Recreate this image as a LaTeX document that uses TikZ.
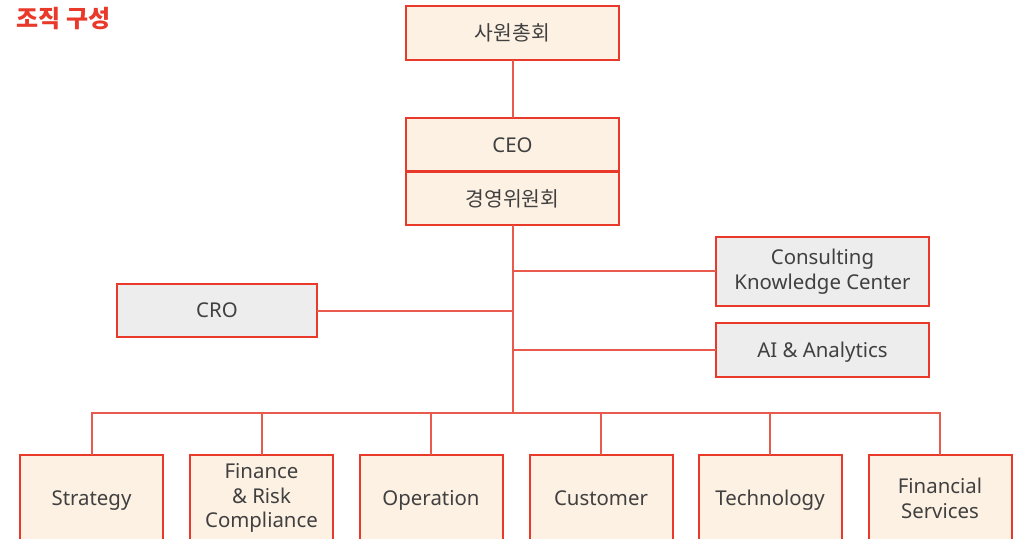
\documentclass[tikz,border=0pt]{standalone}
\usepackage{fontspec}
\setmainfont{Noto Sans}
\newfontfamily\kr{Noto Sans CJK KR}
\definecolor{orgred}{HTML}{E8392B}
\definecolor{linkred}{HTML}{E85A4C}
\definecolor{cream}{HTML}{FDF1E3}
\definecolor{boxgray}{HTML}{EDEDED}
\definecolor{txt}{HTML}{404040}

\begin{document}
\begin{tikzpicture}[x=0.5pt, y=-0.5pt]
\tikzstyle{unit}=[draw=orgred, line width=1pt, fill=cream, text=txt, inner sep=0pt, outer sep=0pt, align=center, font=\fontsize{10.2}{12.4}\selectfont]
\tikzstyle{staff}=[unit, fill=boxgray]
\tikzstyle{team}=[unit, minimum width=71.5pt, minimum height=43pt]
\tikzstyle{oneline}=[text height=8pt, text depth=0.8pt]
\tikzstyle{link}=[draw=linkred, line width=1pt]

\clip (0,0) rectangle (1020,539);

\draw (63.5,19) node[text=orgred, font=\kr\fontsize{12}{14}\bfseries] (title) {조직 구성};

% top
\draw (512.5,33) node[unit, minimum width=106.5pt, minimum height=27pt, font=\kr\fontsize{10.2}{12}\selectfont] (assembly) {사원총회};
\draw (512.5,145) node[unit, oneline, minimum width=106.5pt, minimum height=26.5pt] (ceo) {CEO};
\draw (512.5,198.5) node[unit, minimum width=106.5pt, minimum height=26.5pt, font=\kr\fontsize{10.2}{12}\selectfont] (board) {경영위원회};

% staff units
\draw (822.5,271.5) node[staff, minimum width=106.5pt, minimum height=34.5pt] (ckc) {Consulting\\Knowledge Center};
\draw (217,310.5) node[staff, oneline, minimum width=100pt, minimum height=26.5pt] (cro) {CRO};
\draw (822.5,350) node[staff, oneline, minimum width=106.5pt, minimum height=27pt] (ai) {AI \& Analytics};

% teams
\draw (91.5,498) node[team, oneline] (strategy) {Strategy};
\draw (261.5,498) node[team] (finance) {Finance\\\& Risk\\Compliance};
\draw (431,498) node[team, oneline] (operation) {Operation};
\draw (601,498) node[team, oneline] (customer) {Customer};
\draw (770,498) node[team, oneline] (technology) {Technology};
\draw (940,498) node[team] (services) {Financial\\Services};

\coordinate (hub) at (512.5,413);
\coordinate (jckc) at (512.5,271);
\coordinate (jcro) at (512.5,310.5);
\coordinate (jai) at (512.5,350);

\draw[link] (assembly) -- (ceo);
\draw[link] (board) -- (hub);
\draw[link] (jckc) -- (ckc.west |- jckc);
\draw[link] (jcro) -- (cro);
\draw[link] (jai) -- (ai);
\draw[link] (strategy.north) |- (hub) -| (services.north);
\draw[link] (finance.north) -- (finance.north |- hub);
\draw[link] (operation.north) -- (operation.north |- hub);
\draw[link] (customer.north) -- (customer.north |- hub);
\draw[link] (technology.north) -- (technology.north |- hub);
\end{tikzpicture}
\end{document}
